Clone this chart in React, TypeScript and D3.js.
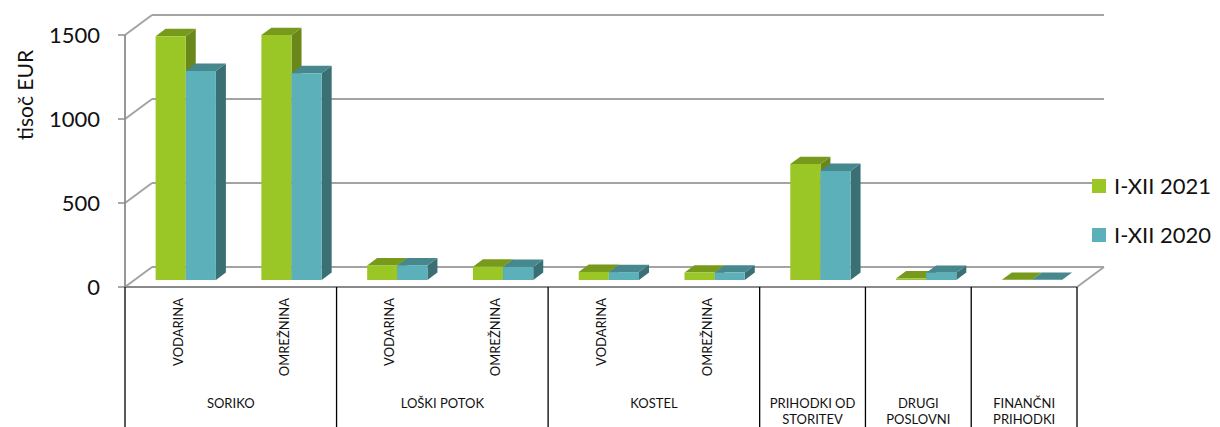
import React from "react";
import * as d3 from "d3";

const categories = ["SORIKO-V", "SORIKO-O", "LP-V", "LP-O", "K-V", "K-O", "PRIH", "DRUGI", "FIN"];
const subLabels = ["VODARINA", "OMREŽNINA", "VODARINA", "OMREŽNINA", "VODARINA", "OMREŽNINA", "", "", ""];
const groupNames = [["SORIKO"], ["LOŠKI POTOK"], ["KOSTEL"], ["PRIHODKI OD", "STORITEV"], ["DRUGI", "POSLOVNI"], ["FINANČNI", "PRIHODKI"]];
const groupSpans = [[0, 2], [2, 4], [4, 6], [6, 7], [7, 8], [8, 9]];
const seriesNames = ["I-XII 2021", "I-XII 2020"];
const values2021 = [1451, 1458, 87, 79, 48, 44, 690, 9, 1];
const values2020 = [1244, 1231, 87, 78, 47, 44, 649, 43, 1];
const yTicks = [0, 500, 1000, 1500];

const W = 1220, H = 427;
const X0 = 125, X1 = 1077, YF = 287;
const DX = 27, DY = 20;
const FONT = "Lato, 'Open Sans', sans-serif";

const colors = [
  { front: "#9AC726", top: "#779A1C", side: "#6A8719" },
  { front: "#5BB0B9", top: "#47878E", side: "#3A6F74" },
];

export default function App() {
  const x = d3.scaleBand<string>().domain(categories).range([X0, X1]).padding(0);
  const bw = x.bandwidth();
  const inner = d3.scaleBand<string>().domain(seriesNames).range([bw * 0.2, bw * 0.77]).padding(0);
  const h = d3.scaleLinear().domain([0, 1500]).range([0, 252]);

  const P = (px: number, f: number, v: number): [number, number] => [px + DX * f, YF - DY * f - h(v)];
  const pts = (arr: [number, number][]) => arr.map((p) => p.join(",")).join(" ");

  const fF = 0.35, fB = 0.72;
  const bars: React.ReactNode[] = [];
  categories.forEach((c, i) => {
    [values2021, values2020].forEach((vals, s) => {
      const v = vals[i];
      const xl = (x(c) as number) + (inner(seriesNames[s]) as number);
      const xr = xl + inner.bandwidth();
      const col = colors[s];
      const fbl = P(xl, fF, 0), fbr = P(xr, fF, 0), ftl = P(xl, fF, v), ftr = P(xr, fF, v);
      const bbr = P(xr, fB, 0), btl = P(xl, fB, v), btr = P(xr, fB, v);
      bars.push(
        <g key={c + s}>
          <polygon points={pts([fbr, ftr, btr, bbr])} fill={col.side} />
          <polygon points={pts([ftl, ftr, btr, btl])} fill={col.top} />
          <polygon points={pts([fbl, fbr, ftr, ftl])} fill={col.front} />
        </g>
      );
    });
  });

  const gridColor = "#A3A3A3";

  return (
    <svg width={W} height={H} style={{ position: "absolute", left: 0, top: 0, background: "#fff" }}>
      {yTicks.map((t) => {
        const [ax, ay] = P(X0, 0, t);
        const [bx, by] = P(X0, 1, t);
        const [ex] = P(X1, 1, t);
        return (
          <g key={t}>
            <line x1={ax} y1={ay} x2={bx} y2={by} stroke={gridColor} strokeWidth={2} />
            <line x1={bx} y1={by} x2={ex} y2={by} stroke={gridColor} strokeWidth={2} />
            <line x1={ax - 7} y1={ay} x2={ax} y2={ay} stroke="#8C8C8C" strokeWidth={1.5} />
            <text x={100} y={ay} dy="0.36em" textAnchor="end" fontFamily={FONT} fontSize={22} fill="#111">
              {t}
            </text>
          </g>
        );
      })}
      <line x1={X1} y1={YF} x2={X1 + DX} y2={YF - DY} stroke={gridColor} strokeWidth={2} />
      <line x1={X0} y1={P(X0, 0, 1500)[1]} x2={X0} y2={YF} stroke="#8C8C8C" strokeWidth={1.8} />
      {bars}
      <line x1={X0} y1={YF} x2={X1} y2={YF} stroke="#8A8A8A" strokeWidth={2} />
      {groupSpans.map(([a, b], gi) => {
        const xa = x(categories[a]) as number;
        const xb = (x(categories[b - 1]) as number) + bw;
        const cx = (xa + xb) / 2;
        return (
          <g key={gi}>
            {gi === 0 && <line x1={xa} y1={YF} x2={xa} y2={H} stroke="#000" strokeWidth={1.3} />}
            <line x1={xb} y1={YF} x2={xb} y2={H} stroke="#000" strokeWidth={1.3} />
            {groupNames[gi].map((ln, li) => (
              <text key={li} x={cx} y={408 + li * 16} textAnchor="middle" fontFamily={FONT} fontSize={13} fill="#111">
                {ln}
              </text>
            ))}
          </g>
        );
      })}
      {categories.map((c, i) =>
        subLabels[i] ? (
          <text
            key={c}
            transform={`translate(${(x(c) as number) + bw / 2 + 5},298) rotate(-90)`}
            textAnchor="end"
            fontFamily={FONT}
            fontSize={13}
            fill="#111"
          >
            {subLabels[i]}
          </text>
        ) : null
      )}
      <text transform="translate(33,95) rotate(-90)" textAnchor="middle" fontFamily={FONT} fontSize={21} fill="#111">
        tisoč EUR
      </text>
      {seriesNames.map((s, i) => (
        <g key={s} transform={`translate(1092,${179 + i * 49})`}>
          <rect x={0} y={0} width={14} height={14} fill={colors[i].front} />
          <text x={22} y={7} dy="0.36em" fontFamily={FONT} fontSize={22} fill="#111">
            {s}
          </text>
        </g>
      ))}
    </svg>
  );
}
